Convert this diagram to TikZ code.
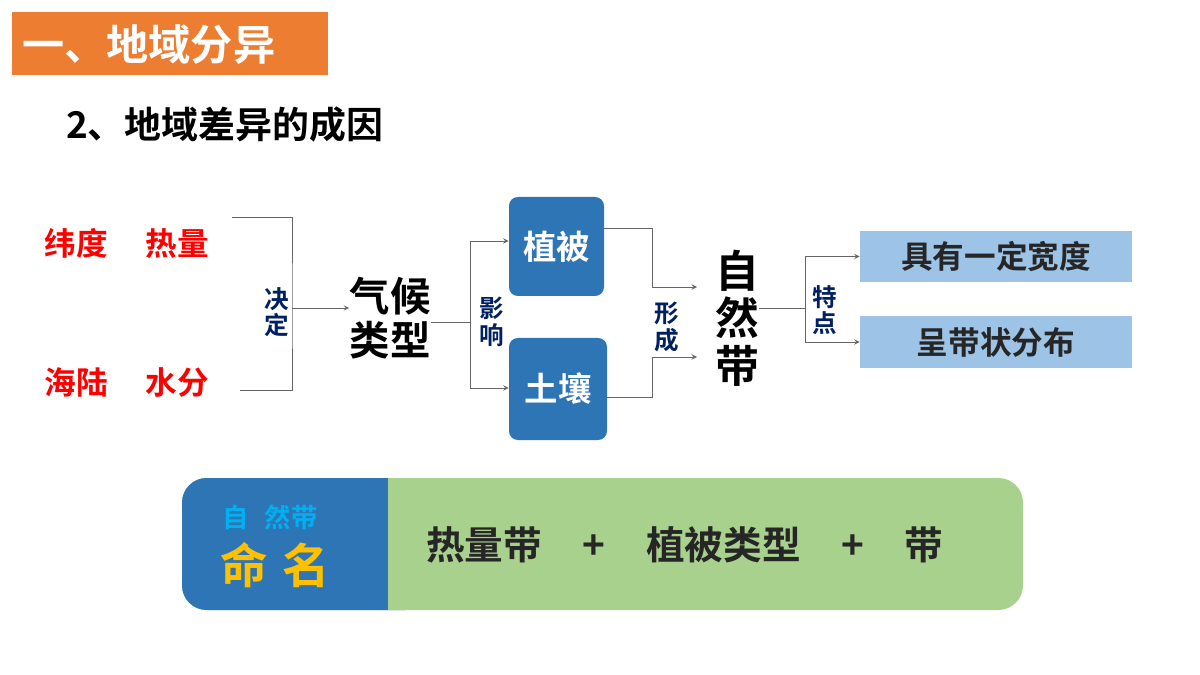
\documentclass[tikz,border=0pt]{standalone}
\usepackage{fontspec}
\setmainfont{Noto Sans CJK SC}[BoldFont={Noto Sans CJK SC Bold}]
\usetikzlibrary{arrows}
\definecolor{orangehead}{RGB}{237,125,49}
\definecolor{boxblue}{RGB}{46,117,182}
\definecolor{lightblue}{RGB}{157,195,230}
\definecolor{navy}{RGB}{0,32,96}
\definecolor{namegreen}{RGB}{169,209,142}
\definecolor{cyanname}{RGB}{0,176,240}
\definecolor{goldname}{RGB}{255,192,0}
\tikzstyle{cause} = [text=red, font=\bfseries\fontsize{18}{20}\selectfont]
\tikzstyle{verb} = [text=navy, font=\bfseries\fontsize{14}{15}\selectfont, align=center, inner sep=0pt]
\tikzstyle{big} = [font=\bfseries\fontsize{23}{25}\selectfont, align=center, inner sep=0pt]
\tikzstyle{soil} = [rectangle, rounded corners=5pt, fill=boxblue, text=white, font=\bfseries\fontsize{19}{20}\selectfont]
\tikzstyle{trait} = [rectangle, fill=lightblue, text=black!85, font=\bfseries\fontsize{18}{20}\selectfont]
\tikzstyle{line} = [draw=black!60, thin]
\tikzstyle{arrow} = [line, ->, >=stealth]
\begin{document}
\begin{tikzpicture}[x=0.02cm, y=-0.02cm]
\useasboundingbox (0,0) rectangle (1200,675);

\fill [orangehead] (12,12) rectangle (328,75);
\node (head) [anchor=west, text=white, font=\bfseries\fontsize{24}{26}\selectfont] at (16,45) {一、地域分异};
\node (sub) [anchor=west, font=\bfseries\fontsize{21}{22}\selectfont] at (60,125) {2、地域差异的成因};

\node (lat) [cause] at (127,243) {纬度\hspace{1.2em}热量};
\node (sea) [cause] at (127,383) {海陆\hspace{1.2em}水分};
\coordinate (b1) at (232,217);
\coordinate (b2) at (240,390);
\coordinate (bm) at (292,308);
\node (decide) [verb] at (277,312) {决\\定};
\node (climate) [big] at (390,318) {气候\\类型};
\node (affect) [verb] at (492,322) {影\\响};
\node (veg) [soil, minimum width=95*0.02cm, minimum height=99*0.02cm] at (556.5,246.5) {植被};
\node (soilbox) [soil, minimum width=98*0.02cm, minimum height=102*0.02cm] at (558,389) {土壤};
\node (form) [verb] at (667,327) {形\\成};
\node (zone) [big, font=\bfseries\fontsize{25}{27}\selectfont] at (737,318) {自\\然\\带};
\node (feat) [verb] at (825,310) {特\\点};
\node (wide) [trait, minimum width=272*0.02cm, minimum height=51*0.02cm] at (996,256.5) {具有一定宽度};
\node (belt) [trait, minimum width=272*0.02cm, minimum height=52*0.02cm] at (996,342) {呈带状分布};

% Flechas
\draw [line] (b1) -| (bm) |- (b2);
\draw [arrow] (bm) -- (climate.west |- bm);
\draw [line] (climate.east |- 0,322) -- (470,322);
\draw [arrow] (470,322) |- (veg.west |- 0,241);
\draw [arrow] (470,322) |- (soilbox.west |- 0,388);
\draw [arrow] (veg.east |- 0,228) -| (652,287) -- (697,287);
\draw [arrow] (soilbox.east |- 0,397) -| (652,357) -- (697,357);
\draw [line] (zone.east |- 0,308) -- (805,308);
\draw [arrow] (805,308) |- (wide.west);
\draw [arrow] (805,308) |- (belt.west);

% naming
\fill [namegreen, rounded corners=14pt] (182,478) rectangle (1023,610);
\fill [boxblue, rounded corners=14pt] (182,478) rectangle (430,610);
\fill [namegreen] (388,478) rectangle (440,610);
\node (nat) [text=cyanname, font=\bfseries\fontsize{15}{16}\selectfont] at (270,517) {自\hspace{0.6em}然带};
\node (name) [text=goldname, font=\bfseries\fontsize{27}{28}\selectfont] at (275,565) {命\hspace{0.3em}名};
\node (rule) [anchor=west, text=black!85, font=\bfseries\fontsize{22}{24}\selectfont] at (420,545) {热量带\hspace{1.05em}+\hspace{1.05em}植被类型\hspace{1.05em}+\hspace{1.05em}带};
\end{tikzpicture}
\end{document}
